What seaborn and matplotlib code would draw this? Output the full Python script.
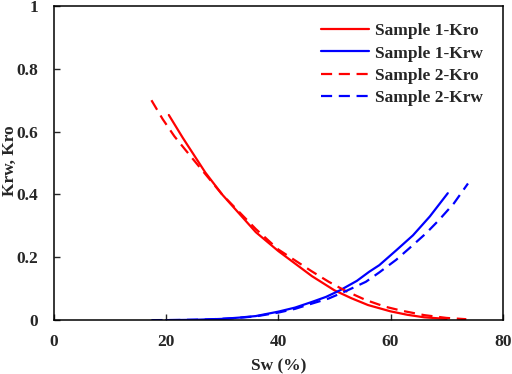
import matplotlib
matplotlib.use("Agg")
import matplotlib.pyplot as plt
import pandas as pd
import seaborn as sns

# Sample 1
sw_kro1 = [20.5, 23, 25, 27, 30, 33, 36, 40, 43, 46, 50, 53, 56, 60, 63, 66, 70]
kro1 = [0.653, 0.58, 0.525, 0.47, 0.40, 0.34, 0.28, 0.22, 0.18, 0.14, 0.095, 0.07, 0.048, 0.028, 0.017, 0.009, 0.004]
sw_krw1 = [20, 25, 30, 33, 36, 40, 43, 46, 48.5, 51, 54, 56.2, 58, 61, 64, 67, 70.2]
krw1 = [0, 0.001, 0.004, 0.008, 0.013, 0.027, 0.04, 0.058, 0.074, 0.095, 0.125, 0.154, 0.175, 0.222, 0.27, 0.33, 0.404]

# Sample 2
sw_kro2 = [17.4, 19.4, 21.5, 24, 27, 30, 33, 36, 40, 43, 46, 49, 52, 55.6, 59, 62, 66, 70, 73.5]
kro2 = [0.70, 0.64, 0.585, 0.53, 0.465, 0.40, 0.345, 0.29, 0.225, 0.19, 0.155, 0.122, 0.093, 0.064, 0.043, 0.03, 0.016, 0.007, 0.003]
sw_krw2 = [17.4, 22, 27, 32, 36, 40, 43, 45.5, 49, 52, 55.6, 58, 61, 63.3, 66.3, 68.6, 71.3, 73.8]
krw2 = [0, 0.0005, 0.002, 0.006, 0.012, 0.024, 0.036, 0.05, 0.069, 0.092, 0.122, 0.152, 0.192, 0.228, 0.276, 0.318, 0.372, 0.435]

y_ticks = [0, 0.2, 0.4, 0.6, 0.8, 1]
y_labels = ['0', '0.2', '0.4', '0.6', '0.8', '1']
x_ticks = [0, 20, 40, 60, 80]

sns.set_style("ticks")
plt.rcParams['font.family'] = ['Liberation Serif', 'DejaVu Serif']
plt.rcParams['font.weight'] = 'bold'

fig = plt.figure(figsize=(5.12, 3.74), dpi=100)
ax = fig.add_axes([0.105, 0.144, 0.877, 0.84])

series = [
    (sw_kro1, kro1, 'Sample 1-Kro', '#ff0000', '-'),
    (sw_krw1, krw1, 'Sample 1-Krw', '#0000ff', '-'),
    (sw_kro2, kro2, 'Sample 2-Kro', '#ff0000', (0, (5, 3))),
    (sw_krw2, krw2, 'Sample 2-Krw', '#0000ff', (0, (5, 3))),
]
for x, y, name, col, ls in series:
    df = pd.DataFrame({'Sw': x, 'K': y})
    sns.lineplot(data=df, x='Sw', y='K', ax=ax, color=col, linestyle=ls,
                 linewidth=1.6, label=name, sort=False)

ax.set_xlim(0, 80)
ax.set_ylim(0, 1)
ax.set_xticks(x_ticks)
ax.set_yticks(y_ticks)
ax.set_yticklabels(y_labels)
ax.tick_params(direction='in', length=4, width=1, labelsize=12.5)
ax.tick_params(axis='y', pad=11)
ax.tick_params(axis='x', pad=10)
for lab in ax.get_xticklabels() + ax.get_yticklabels():
    lab.set_fontweight('bold')
for sp in ax.spines.values():
    sp.set_visible(True)
    sp.set_linewidth(1.1)
    sp.set_color('black')

ax.set_xlabel('Sw (%)', fontsize=12.5, fontweight='bold', labelpad=6)
ax.set_ylabel('Krw, Kro', fontsize=12.5, fontweight='bold')
ax.yaxis.set_label_coords(-0.08, 0.506)

leg = ax.legend(loc='upper left', bbox_to_anchor=(0.579, 0.968), frameon=False,
                handlelength=2.76, handletextpad=0.35, labelspacing=0.36,
                borderaxespad=0, prop={'weight': 'bold', 'size': 12.5})

fig.savefig('out.png', dpi=100)
